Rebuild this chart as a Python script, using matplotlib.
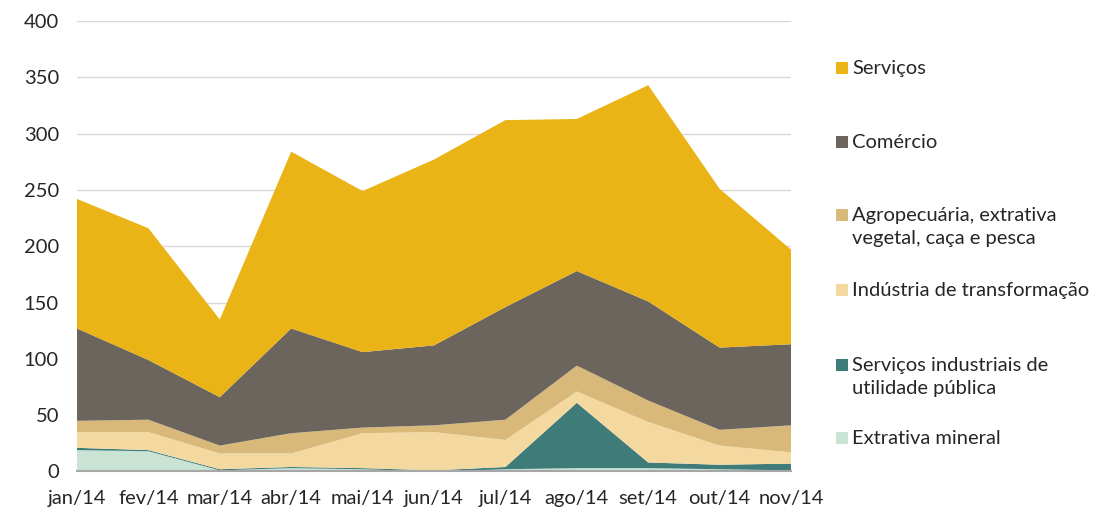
import matplotlib
matplotlib.use("Agg")
import matplotlib.pyplot as plt
from matplotlib.patches import Rectangle

# Monthly values per sector (stacked bottom to top)
months = ["jan/14", "fev/14", "mar/14", "abr/14", "mai/14", "jun/14",
          "jul/14", "ago/14", "set/14", "out/14", "nov/14"]
extrativa_mineral = [19, 18, 1, 3, 2, 0, 2, 3, 3, 2, 1]
servicos_ind_up = [2, 1, 1, 1, 1, 1, 2, 58, 5, 4, 6]
industria_transf = [14, 16, 14, 12, 31, 34, 24, 10, 36, 17, 10]
agropecuaria = [10, 11, 7, 18, 5, 6, 18, 23, 19, 14, 24]
comercio = [82, 53, 43, 93, 67, 71, 100, 84, 88, 73, 72]
servicos = [115, 117, 69, 157, 143, 165, 166, 135, 192, 141, 84]

series = [extrativa_mineral, servicos_ind_up, industria_transf,
          agropecuaria, comercio, servicos]
labels = ["Extrativa mineral", "Serviços industriais de\nutilidade pública",
          "Indústria de transformação",
          "Agropecuária, extrativa\nvegetal, caça e pesca",
          "Comércio", "Serviços"]
colors = ["#C9E3D5", "#3F7C79", "#F3D99F", "#D9B97A", "#6B655E", "#EAB316"]

plt.rcParams["font.family"] = ["Lato", "DejaVu Sans"]

fig = plt.figure(figsize=(10.95, 5.11), dpi=100)
ax = fig.add_axes([0.0703, 0.0773, 0.6521, 0.8816])

x = list(range(len(months)))
ax.stackplot(x, *series, colors=colors, linewidth=0)

ax.set_xlim(0, len(months) - 1)
ax.set_ylim(0, 400)
ax.set_yticks(range(0, 401, 50))
ax.set_xticks(x)
ax.set_xticklabels(months)
ax.grid(axis="y", color="#D9D9D9", linewidth=1)
ax.set_axisbelow(True)
for side in ["left", "right", "top"]:
    ax.spines[side].set_visible(False)
ax.spines["bottom"].set_color("#A6A6A6")
ax.spines["bottom"].set_linewidth(1.5)
ax.spines["bottom"].set_zorder(5)
ax.tick_params(axis="both", length=0, labelsize=14.5, colors="#262626")
ax.tick_params(axis="x", pad=13)
ax.tick_params(axis="y", pad=13)

# Legend, drawn top to bottom
W, H = 1095.0, 511.0
entries = list(zip(labels, colors))[::-1]
rows = [68, 142, 215, 290, 365, 438]
for (lab, col), yc in zip(entries, rows):
    fig.patches.append(Rectangle((836 / W, 1 - (yc + 6) / H), 12 / W, 12 / H,
                                 transform=fig.transFigure, facecolor=col,
                                 edgecolor="none"))
    fig.text(852 / W, 1 - (yc - 8) / H, lab, fontsize=14.5, color="#262626",
             va="top", ha="left", linespacing=1.4)

fig.savefig("out.png", dpi=100)
